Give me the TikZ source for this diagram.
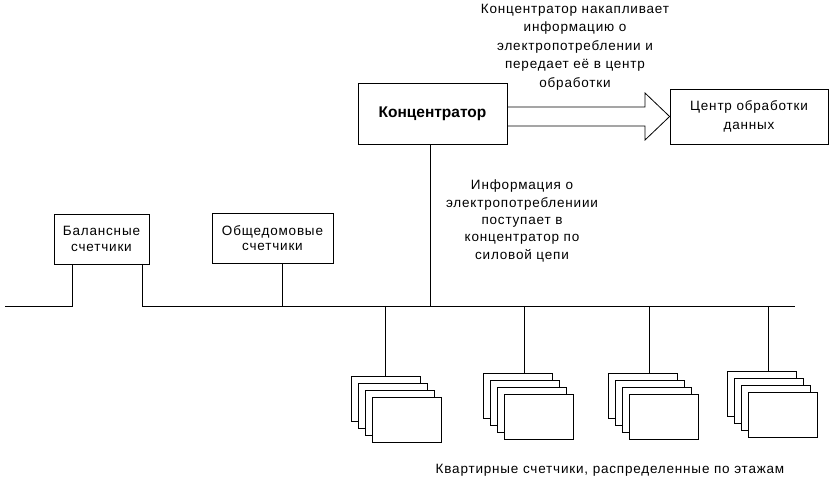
\documentclass[tikz,border=0pt]{standalone}
\usepackage{fontspec}
\setmainfont{Liberation Sans}[LetterSpace=6]
\newfontfamily\boldfam{Liberation Sans}[LetterSpace=0]
\begin{document}
\begin{tikzpicture}[x=1pt,y=-1pt,line width=0.8pt,
  txt/.style={align=center,inner sep=0pt,font=\fontsize{13.5}{18}\selectfont},
  box/.style={draw,fill=white,inner sep=0pt,font=\fontsize{13.5}{18.5}\selectfont,align=center},
  meter/.style={draw,fill=white,minimum width=69pt,minimum height=45pt,inner sep=0pt}]
\useasboundingbox (0,0) rectangle (831,497);
% concentrator
\node[box,minimum width=149pt,minimum height=61pt,font=\boldfam\bfseries\fontsize{15.5}{18}\selectfont] (conc) at (432.5,113.5) {Концентратор};
\node[box,minimum width=158pt,minimum height=55pt] (cod) at (749,116.5) {Центр обработки\\данных};
% big arrow
\draw (conc.east |- 0,107) -- (645,107) -- (645,93) -- (cod.west) -- (645,140) -- (645,126) -- (conc.east |- 0,126);
\node[txt,font=\fontsize{13.5}{18.5}\selectfont] (t1) at (575,47) {Концентратор накапливает\\информацию о\\электропотреблении и\\передает её в центр\\обработки};
% meters
\node[box,minimum width=95pt,minimum height=50pt,font=\fontsize{13.5}{15.5}\selectfont] (bal) at (101.5,239) {Балансные\\счетчики};
\node[box,minimum width=121pt,minimum height=50pt,font=\fontsize{13.5}{15.5}\selectfont] (obs) at (272.5,238) {Общедомовые\\счетчики};
\coordinate (busL) at (5,306);
\coordinate (busR) at (795,306);
\coordinate (obsTap) at (282,306);
\coordinate (concTap) at (430,306);
\draw (busL) -- (72,306) -- (72,264);
\draw (142,264) -- (142,306) -- (busR);
\draw (obs.south -| obsTap) -- (obsTap);
\draw (conc.south -| concTap) -- (concTap);
\node[txt,font=\fontsize{13.5}{17.3}\selectfont] (t2) at (522,221) {Информация о\\электропотреблениии\\поступает в\\концентратор по\\силовой цепи};
% apartment meter groups
\foreach \gx/\gy/\lx [count=\i] in {351/376/385, 483/373/524, 608/373/649, 727/371/768}{
  \draw (\lx,306) -- (\lx,\gy);
  \foreach \k in {0,1,2,3}{
    \node[meter,anchor=north west] (m\i\k) at (\gx+7*\k,\gy+7*\k) {};
  }
}
\node[txt] (t3) at (610,470) {Квартирные счетчики, распределенные по этажам};
\end{tikzpicture}
\end{document}
